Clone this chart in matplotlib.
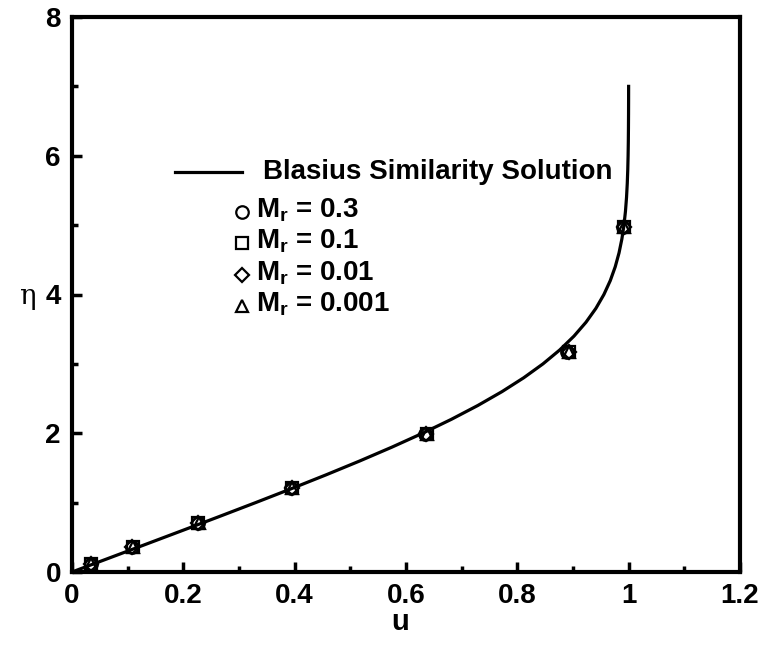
import matplotlib
matplotlib.use("Agg")
import matplotlib.pyplot as plt
from matplotlib.ticker import MultipleLocator

plt.rcParams['font.family'] = ['Liberation Sans', 'DejaVu Sans']
plt.rcParams['mathtext.fontset'] = 'custom'
plt.rcParams['mathtext.rm'] = 'Liberation Sans:bold'
plt.rcParams['mathtext.bf'] = 'Liberation Sans:bold'

# ---------------- DATA ----------------
# Blasius similarity solution (tabulated f'(eta))
eta_blasius = [0.0, 0.2, 0.4, 0.6, 0.8, 1.0, 1.2, 1.4, 1.6, 1.8, 2.0, 2.2, 2.4,
               2.6, 2.8, 3.0, 3.2, 3.4, 3.6, 3.8, 4.0, 4.2, 4.4, 4.6, 4.8, 5.0,
               5.2, 5.4, 5.6, 5.8, 6.0, 6.2, 6.4, 6.6, 6.8, 7.0]
u_blasius = [0.0, 0.06641, 0.13277, 0.19894, 0.26471, 0.32979, 0.39378,
             0.45627, 0.51676, 0.57477, 0.62977, 0.68132, 0.72899, 0.77246,
             0.81152, 0.84605, 0.87609, 0.90177, 0.92333, 0.94112, 0.95552,
             0.96696, 0.97587, 0.98269, 0.98779, 0.99155, 0.99425, 0.99616,
             0.99748, 0.99838, 0.99898, 0.99937, 0.99961, 0.99977, 0.99987,
             0.99992]

# simulation results (nearly identical for every Mach number)
eta_sim = [0.12, 0.36, 0.70, 1.21, 1.99, 3.17, 4.98]
u_mr03 = [0.035, 0.108, 0.226, 0.394, 0.635, 0.890, 0.990]
u_mr01 = [0.034, 0.109, 0.227, 0.396, 0.637, 0.893, 0.992]
u_mr001 = [0.034, 0.108, 0.227, 0.395, 0.636, 0.892, 0.991]
u_mr0001 = [0.035, 0.109, 0.228, 0.396, 0.638, 0.893, 0.992]

series = [
    (u_mr03, 'o', 'M$_\\mathrm{r}$ = 0.3'),
    (u_mr01, 's', 'M$_\\mathrm{r}$ = 0.1'),
    (u_mr001, 'D', 'M$_\\mathrm{r}$ = 0.01'),
    (u_mr0001, '^', 'M$_\\mathrm{r}$ = 0.001'),
]

# ---------------- PLOT ----------------
W, H = 760, 645
fig = plt.figure(figsize=(W / 100, H / 100), dpi=100)
ax = fig.add_axes([72 / W, 1 - 572 / H, (740 - 72) / W, (572 - 17) / H])

ax.plot(u_blasius, eta_blasius, color='black', lw=2.3, zorder=3)

msize = {'o': 9, 's': 8.5, 'D': 7, '^': 9}
for u, m, lab in series:
    ax.plot(u, eta_sim, ls='none', marker=m, ms=msize[m], mfc='none',
            mec='black', mew=1.6, zorder=4)

ax.set_xlim(0, 1.2)
ax.set_ylim(0, 8)
ax.xaxis.set_major_locator(MultipleLocator(0.2))
ax.xaxis.set_minor_locator(MultipleLocator(0.1))
ax.yaxis.set_major_locator(MultipleLocator(2))
ax.yaxis.set_minor_locator(MultipleLocator(1))
ax.set_xticks([0, 0.2, 0.4, 0.6, 0.8, 1.0, 1.2])
ax.set_xticklabels(['0', '0.2', '0.4', '0.6', '0.8', '1', '1.2'])

for s in ax.spines.values():
    s.set_linewidth(3)
ax.tick_params(which='both', direction='in', top=False, right=False, width=2.5)
ax.tick_params(which='major', length=7, labelsize=20, pad=8)
ax.tick_params(which='minor', length=4)
for t in ax.get_xticklabels() + ax.get_yticklabels():
    t.set_fontweight('bold')

fig.text(400 / W, 1 - 622 / H, 'u', fontsize=21, fontweight='bold',
         ha='center', va='center')
fig.text(27 / W, 1 - 296 / H, 'η', fontsize=20, family='DejaVu Serif',
         ha='center', va='center')

# ---------------- LEGEND ----------------
fig.add_artist(plt.Line2D([175 / W, 242 / W], [1 - 172 / H] * 2,
                          color='black', lw=2.3))
fig.text(263 / W, 1 - 172 / H, 'Blasius Similarity Solution', fontsize=20,
         fontweight='bold', va='center', ha='left')
rows = [212, 243, 275, 306]
for (u, m, lab), y in zip(series, rows):
    fig.add_artist(plt.Line2D([242 / W], [1 - y / H], ls='none', marker=m,
                              ms=msize[m], mfc='none', mec='black', mew=1.6))
    fig.text(256 / W, 1 - (y - 2) / H, lab, fontsize=20, fontweight='bold',
             va='center', ha='left')

fig.savefig('out.png', dpi=100)
